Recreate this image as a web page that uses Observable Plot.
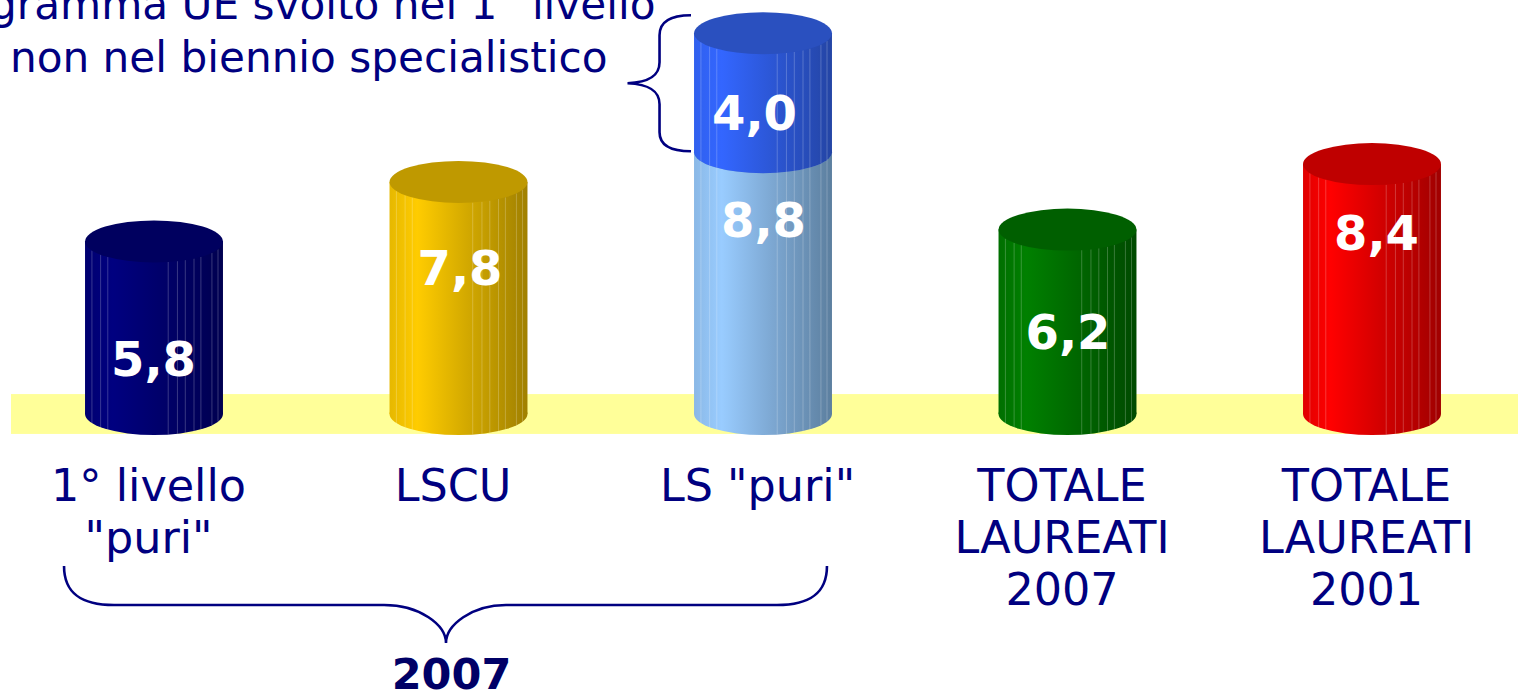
<!DOCTYPE html>
<html><head><meta charset="utf-8">
<script src="https://cdn.jsdelivr.net/npm/d3@7"></script>
<script src="https://cdn.jsdelivr.net/npm/@observablehq/plot@0.6"></script>
<style>html,body{margin:0;padding:0;background:#fff;overflow:hidden}svg{display:block}</style>
</head><body><div id="chart"></div>
<script>
const categories = ['1° livello\n"puri"', 'LSCU', 'LS "puri"', 'TOTALE\nLAUREATI\n2007', 'TOTALE\nLAUREATI\n2001'];
const baseValues = [5.8, 7.8, 8.8, 6.2, 8.4];
const extraValue = 4.0;
const baseLabels = ["5,8", "7,8", "8,8", "6,2", "8,4"];
const extraLabel = "4,0";
const noteLines = ["gramma UE svolto nel 1° livello", "non nel biennio specialistico"];
const groupLabel = "2007";

const palette = [
  {top:"#00005f", stops:["#000070","#000080","#000050"]},
  {top:"#bf9900", stops:["#e6b800","#ffcc00","#a08000"]},
  {top:"#7fa6cc", stops:["#8ab8e6","#99ccff","#5c7f9f"]},
  {top:"#005f00", stops:["#006f00","#008000","#004a00"]},
  {top:"#bf0000", stops:["#e00000","#ff0000","#a00000"]},
  {top:"#2a50bf", stops:["#3060ee","#3366ff","#2445a5"]}
];
const navy = "#000080";
const facets = [.05,.113,.165,.603,.67,.727,.79,.84,.92,.964];
const capRy = 21;

const segments = [];
baseValues.forEach((v,i)=>segments.push({cat:categories[i],y1:0,y2:v,c:i}));
segments.push({cat:categories[2],y1:baseValues[2],y2:baseValues[2]+extraValue,c:5});

const ns = "http://www.w3.org/2000/svg";
const el = (name,attrs,parent)=>{const e=document.createElementNS(ns,name);for(const k in attrs)e.setAttribute(k,attrs[k]);if(parent)parent.appendChild(e);return e;};

const gradients = ()=>{
  const d=el("defs",{});
  palette.forEach((p,i)=>{
    const g=el("linearGradient",{id:"cyl"+i,x1:0,x2:1,y1:0,y2:0},d);
    [[0,p.stops[0]],[.2,p.stops[1]],[.55,d3.interpolateRgb(p.stops[1],p.stops[2])(.45)],[1,p.stops[2]]]
      .forEach(([o,c])=>el("stop",{offset:o,"stop-color":c},g));
  });
  return d;
};
const cap = (s,kind)=>(index,{x,y})=>{
  const g=el("g",{});
  const w=x.bandwidth(),cx=x(s.cat)+w/2;
  if(kind==="bottom") el("ellipse",{cx,cy:y(s.y1),rx:w/2,ry:capRy,fill:`url(#cyl${s.c})`},g);
  if(kind==="facets") facets.forEach(f=>{
    const px=x(s.cat)+f*w, dy=capRy*Math.sqrt(1-(2*f-1)**2);
    el("line",{x1:px,x2:px,y1:y(s.y2)+dy,y2:y(s.y1)+dy,stroke:"#fff","stroke-opacity":.28,"stroke-width":.8},g);
  });
  if(kind==="top") el("ellipse",{cx,cy:y(s.y2),rx:w/2,ry:capRy,fill:palette[s.c].top},g);
  return g;
};
const braces = (index,{x,y})=>{
  const g=el("g",{fill:"none",stroke:navy,"stroke-width":2.6});
  const w=x.bandwidth(), L=x(categories[0])-21, R=x(categories[2])+w-5, M=(L+R)/2+.5;
  const t=y(0)+152, h=y(0)+191, b=y(0)+229;
  el("path",{d:`M${L},${t}C${L},${t+28} ${L+18},${h} ${L+50},${h}L${M-62},${h}C${M-26},${h} ${M},${h+20} ${M},${b}C${M},${h+20} ${M+26},${h} ${M+60},${h}L${R-50},${h}C${R-18},${h} ${R},${t+28} ${R},${t}`},g);
  const xb=x(categories[2])-34.5, xe=x(categories[2])-3;
  const top=y(baseValues[2]+extraValue)-18, bot=y(baseValues[2])-1, mid=(top+bot)/2;
  el("path",{d:`M${xe},${top}C${xb+13},${top} ${xb},${top+5} ${xb},${top+20}L${xb},${mid-21}C${xb},${mid-7} ${xb-11},${mid-1} ${xb-32},${mid}C${xb-11},${mid+1} ${xb},${mid+7} ${xb},${mid+21}L${xb},${bot-19}C${xb},${bot-5} ${xb+13},${bot} ${xe},${bot}`},g);
  return g;
};

const floor = [{y1:-0.67,y2:0.67}];
const segMarks = segments.flatMap(s=>[
  cap(s,"bottom"),
  Plot.rectY([s],{x:"cat",y1:"y1",y2:"y2",fill:()=>`url(#cyl${s.c})`}),
  cap(s,"facets"),
  cap(s,"top")
]);
const valueText = (cat,lab,at,dx)=>Plot.text([{cat,lab,at}],{x:"cat",y:"at",text:"lab",dx,fill:"#fff",fontSize:48,fontWeight:"bold",textAnchor:"middle"});
const labelAt = [1.8,4.87,6.49,2.72,6.05];
const labelDx = [-1,1,0,0,4];

const chart = Plot.plot({
  width:1518,height:694,marginLeft:11,marginRight:0,marginTop:0,marginBottom:0,
  style:{fontFamily:"'DejaVu Sans',Verdana,sans-serif",background:"#fff",overflow:"hidden"},
  x:{type:"band",domain:categories,range:[1.75,1524.25],paddingInner:.547,paddingOuter:.2735,round:false,axis:null},
  y:{type:"linear",domain:[0,13.916],range:[414,0],axis:null},
  marks:[
    gradients,
    Plot.rect(floor,{y1:"y1",y2:"y2",fill:"#ffff99"}),
    ...segMarks,
    ...baseLabels.map((l,i)=>valueText(categories[i],l,labelAt[i],labelDx[i])),
    valueText(categories[2],extraLabel,10.08,-9),
    Plot.text(categories,{x:d=>d,y:()=>-1.65,text:d=>d,dx:-6,fill:navy,fontSize:44.5,lineHeight:1.17,lineAnchor:"top",textAnchor:"middle"}),
    Plot.text([groupLabel],{frameAnchor:"bottom-left",dx:440,dy:-6,text:d=>d,fill:"#000066",fontSize:43,fontWeight:"bold",textAnchor:"middle"}),
    Plot.text([noteLines[0]],{frameAnchor:"top-left",dx:644,dy:-11,text:d=>d,fill:navy,fontSize:42.2,textAnchor:"end",lineAnchor:"top"}),
    Plot.text([noteLines[1]],{frameAnchor:"top-left",dx:596,dy:42,text:d=>d,fill:navy,fontSize:42.2,textAnchor:"end",lineAnchor:"top"}),
    braces
  ]
});
document.getElementById("chart").appendChild(chart);
</script></body></html>
